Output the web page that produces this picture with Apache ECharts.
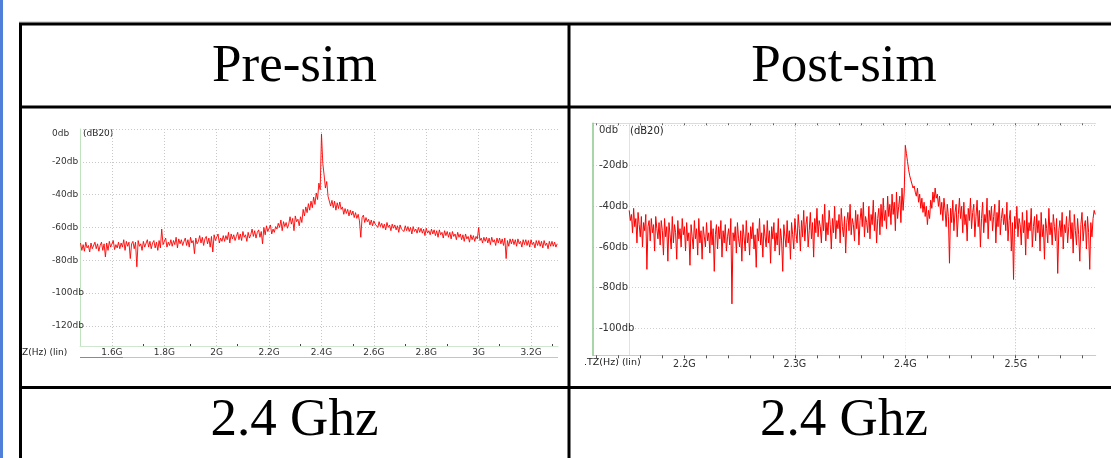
<!DOCTYPE html>
<html><head><meta charset="utf-8">
<script src="https://cdn.jsdelivr.net/npm/echarts@6/dist/echarts.min.js"></script>
<style>html,body{margin:0;padding:0;background:#fff}#c{width:1111px;height:458px}</style>
</head><body><div id="c"></div>
<script>
const headers = ['Pre-sim', 'Post-sim'];
const footers = ['2.4 Ghz', '2.4 Ghz'];

// Pre-sim spectrum: dB20 vs frequency (GHz), sample grid start/step
const preFreqStart = 1.48, preFreqStep = 0.005;
const preDb = [
 -69.5,-74,-70.5,-74.5,-69,-72.5,-71,-75,-69.5,-73,
 -72,-69,-73,-70,-74.5,-71,-69,-74,-70,-78,
 -69.5,-74,-68.5,-72,-73,-68,-73.5,-70.5,-72.5,-69,
 -73,-69.5,-72,-67.5,-74,-68.5,-71.5,-69,-79,-70,
 -68.5,-73,-69,-84,-68,-71.5,-70,-74,-68.5,-72,
 -71,-67.5,-72,-68.5,-73,-69.5,-68,-72.5,-69,-74,
 -68,-72.5,-61,-70.5,-71.5,-66.5,-72,-69,-71,-67.5,
 -71.5,-68,-70.5,-66,-72.5,-67,-70,-67.5,-71,-68.5,
 -66.5,-71,-67.5,-72,-66,-69.5,-68,-76,-66.5,-70,
 -68.5,-65,-69.5,-66,-71,-67,-65.5,-70,-66.5,-72,
 -65.5,-75,-64.5,-68,-69,-64,-69.5,-66.5,-68.5,-65,
 -68.5,-65,-67.5,-63,-69.5,-64,-67,-64.5,-68,-65.5,
 -63,-67.5,-64,-68,-62.5,-66,-64.5,-68.5,-63,-66.5,
 -64.5,-61,-65.5,-62,-66.5,-63,-61.5,-66,-62.5,-70,
 -60,-64.5,-59,-62.5,-63.5,-58.5,-64,-61,-63,-59.5,
 -61,-57.5,-60,-55.5,-62,-56.5,-59.5,-57,-60.5,-58,
 -53.5,-58,-54.5,-62,-53,-56.5,-55,-59,-53.5,-57,
 -49,-53,-47.5,-51,-45.5,-49.5,-44,-48,-41.5,-46,
 -39,-43,-33,-37,-3,-21,-28,-36,-32,-41,
 -42,-47,-43.5,-48,-44,-49.5,-45,-48.5,-44.5,-49,
 -47.5,-52,-48.5,-51.5,-49,-53,-49.5,-52.5,-50,-54,
 -51,-54.5,-52,-56,-66,-54,-52.5,-57,-54,-56.5,
 -55,-58.5,-55.5,-59,-56,-58,-57,-60,-56.5,-59.5,
 -57.5,-60.5,-58,-61.5,-57,-60,-58.5,-62,-58,-60.5,
 -58.5,-61.5,-59,-63,-58.5,-61,-60,-62.5,-59,-62,
 -59.5,-62.5,-60,-64,-59.5,-62.5,-61,-63.5,-60,-63,
 -60.5,-63.5,-61,-65,-60.5,-63.5,-62,-64.5,-61,-64,
 -61.5,-65,-62,-66,-61.5,-64.5,-63,-66.5,-62,-65,
 -62.5,-66,-63,-67,-62.5,-65.5,-64,-67.5,-63,-66,
 -64,-67.5,-64.5,-68.5,-64,-67,-65.5,-69,-64.5,-67.5,
 -65,-68.5,-65.5,-67,-60,-68,-66.5,-69.5,-66,-68.5,
 -66,-69.5,-66.5,-70.5,-66,-69,-67.5,-71,-66.5,-69.5,
 -66.5,-70,-67,-71,-66.5,-79,-68,-71.5,-67,-70,
 -67,-70.5,-67.5,-71.5,-67,-70,-68.5,-72,-67.5,-70.5,
 -67.5,-71,-68,-72,-67.5,-70.5,-69,-72.5,-68,-71,
 -68,-71.5,-68.5,-72.5,-68,-71,-69.5,-73,-68.5,-71.5,
 -68.5,-71.5,-69,-72,-70
];

// Post-sim spectrum: dB20 vs frequency (GHz)
const postFreqStart = 2.15, postFreqStep = 0.001;
const postDb = [
 -42,-47,-44,-53,-41,-50,-46,-58,-43,-49,
 -55,-45,-60,-48,-52,-44,-71,-50,-47,-57,
 -46,-53,-49,-62,-45,-51,-56,-48,-59,-47,
 -52,-64,-46,-55,-50,-67,-48,-54,-61,-45,
 -58,-49,-53,-66,-47,-56,-51,-60,-46,-54,
 -50,-62,-48,-57,-53,-69,-49,-55,-61,-47,
 -56,-51,-64,-46,-58,-52,-66,-50,-55,-60,
 -48,-57,-53,-63,-47,-59,-51,-72,-54,-49,
 -61,-50,-56,-47,-65,-52,-58,-49,-62,-55,
 -51,-59,-46,-88,-53,-57,-50,-63,-48,-56,
 -60,-52,-67,-49,-55,-62,-47,-58,-53,-64,
 -50,-56,-48,-61,-54,-70,-51,-57,-46,-59,
 -53,-65,-49,-55,-60,-47,-58,-52,-68,-50,
 -56,-48,-62,-53,-59,-46,-64,-51,-57,-72,
 -49,-55,-60,-47,-58,-52,-66,-48,-54,-61,
 -46,-53,-58,-44,-51,-62,-47,-55,-42,-57,
 -49,-45,-60,-52,-43,-56,-48,-65,-46,-53,
 -41,-55,-47,-50,-58,-44,-52,-39,-57,-48,
 -54,-42,-49,-61,-46,-53,-40,-56,-47,-51,
 -44,-58,-41,-50,-55,-45,-63,-48,-43,-52,
 -39,-54,-46,-49,-57,-42,-51,-44,-59,-47,
 -41,-50,-38,-55,-45,-48,-53,-40,-56,-44,
 -49,-37,-52,-43,-58,-46,-41,-54,-39,-50,
 -36,-47,-42,-51,-35,-45,-39,-49,-34,-44,
 -38,-52,-33,-46,-40,-35,-48,-31,-42,-33,
 -10,-14,-18,-22,-25,-27,-29,-31,-30,-33,
 -35,-31,-38,-34,-41,-36,-43,-38,-45,-40,
 -49,-42,-46,-37,-41,-33,-38,-31,-36,-34,
 -40,-35,-44,-38,-47,-36,-42,-50,-39,-45,
 -68,-41,-48,-37,-52,-43,-39,-55,-44,-36,
 -46,-40,-53,-38,-49,-44,-57,-41,-47,-36,
 -51,-43,-39,-55,-45,-37,-50,-42,-60,-46,
 -38,-53,-44,-48,-36,-56,-42,-47,-40,-52,
 -45,-39,-58,-43,-50,-37,-54,-46,-41,-49,
 -44,-52,-38,-57,-47,-42,-62,-48,-76,-45,
 -51,-40,-55,-46,-49,-59,-43,-53,-47,-64,
 -42,-56,-48,-52,-41,-60,-50,-45,-57,-44,
 -53,-47,-62,-43,-55,-49,-66,-46,-51,-58,
 -41,-54,-48,-59,-44,-50,-57,-46,-73,-52,
 -47,-55,-43,-61,-49,-53,-45,-58,-50,-42,
 -56,-48,-63,-44,-52,-59,-46,-54,-67,-49,
 -43,-57,-50,-47,-61,-45,-53,-71,-48,-55,
 -46,-42,-44
];

const preXTicks = [1.6, 1.8, 2, 2.2, 2.4, 2.6, 2.8, 3, 3.2];
const preYTicks = [0, -20, -40, -60, -80, -100, -120];
const preMinorTicks = [1.72, 1.9, 2.08, 2.32, 2.52, 2.72, 2.88, 3.08, 3.28];
const postXTicks = [2.2, 2.3, 2.4, 2.5];
const postYTicks = [0, -20, -40, -60, -80, -100];
const postMinorTicks = [2.12,2.14,2.16,2.18,2.2,2.22,2.24,2.26,2.28,2.3,2.32,2.34,2.36,2.38,2.4,2.42,2.44,2.46,2.48,2.5,2.52,2.54,2.56];
const postDataStartMarker = [2.15];

const preData = preDb.map((v, i) => [preFreqStart + i * preFreqStep, v]);
const postData = postDb.map((v, i) => [postFreqStart + i * postFreqStep, v]);

const fmtG = v => parseFloat(v.toFixed(3)) + 'G';
const lblFont = 'DejaVu Sans';
const dbFmt = v => v === 0 ? '{z|0db}' : v + 'db';

const chart = echarts.init(document.getElementById('c'), null, {renderer: 'canvas'});
const lineBlack = (x1, y1, x2, y2) => ({type: 'line', shape: {x1, y1, x2, y2}, style: {stroke: '#000', lineWidth: 3}, silent: true});
const bigText = (t, x, y) => ({type: 'text', x, y, style: {text: t, fill: '#000', font: '53px "Liberation Serif", "Times New Roman", serif', textAlign: 'center', textVerticalAlign: 'middle'}});
const smallText = (t, x, y, size, color) => ({type: 'text', x, y, style: {text: t, fill: color || '#222', font: size + 'px "DejaVu Sans", sans-serif', textAlign: 'left', textVerticalAlign: 'middle'}});

chart.setOption({
  animation: false,
  backgroundColor: '#fff',
  grid: [
    {left: 80, top: 129, width: 478, height: 217},
    {left: 593, top: 123.3, width: 502.7, height: 232}
  ],
  xAxis: [
    {gridIndex: 0, type: 'value', min: 1.478, max: 3.303,
     axisLine: {show: true, onZero: false, lineStyle: {color: '#cfe6cf', width: 1}},
     axisTick: {show: false, customValues: preXTicks},
     axisLabel: {customValues: preXTicks, formatter: fmtG, fontFamily: lblFont, fontSize: 9, color: '#333', margin: 2},
     splitLine: {show: true, lineStyle: {color: '#c8c8c8', type: [1, 2], width: 1}}},
    {gridIndex: 1, type: 'value', min: 2.1172, max: 2.5724,
     axisLine: {show: true, onZero: false, lineStyle: {color: '#b8d6b8', width: 1}},
     axisTick: {show: false, customValues: postXTicks},
     axisLabel: {customValues: postXTicks, formatter: fmtG, fontFamily: lblFont, fontSize: 9.6, color: '#333', margin: 4},
     splitLine: {show: true, lineStyle: {color: ['rgba(0,0,0,0)', '#bdbdbd', '#ececec', '#bdbdbd'], type: [1, 2], width: 1}}},
    {gridIndex: 1, type: 'value', min: 2.1172, max: 2.5724, position: 'bottom',
     axisLine: {show: false, onZero: false}, axisLabel: {show: false}, splitLine: {show: false},
     axisTick: {show: true, customValues: postMinorTicks, length: 3, lineStyle: {color: '#555'}}},
    {gridIndex: 1, type: 'value', min: 2.1172, max: 2.5724, position: 'top',
     axisLine: {show: true, onZero: false, lineStyle: {color: '#dcdcdc'}}, axisLabel: {show: false}, splitLine: {show: false},
     axisTick: {show: true, inside: true, customValues: postMinorTicks, length: 2, lineStyle: {color: '#666'}}},
    {gridIndex: 0, type: 'value', min: 1.478, max: 3.303, position: 'bottom',
     axisLine: {show: false, onZero: false}, axisLabel: {show: false}, splitLine: {show: false},
     axisTick: {show: true, inside: true, customValues: preMinorTicks, length: 2, lineStyle: {color: '#444'}}},
    {gridIndex: 1, type: 'value', min: 2.1172, max: 2.5724, position: 'bottom',
     axisLine: {show: false, onZero: false}, axisLabel: {show: false},
     axisTick: {show: false, customValues: postDataStartMarker},
     splitLine: {show: true, lineStyle: {color: '#e2e2e2', type: 'solid', width: 1}}}
  ],
  yAxis: [
    {gridIndex: 0, type: 'value', min: -132.3, max: 0,
     axisLine: {show: true, onZero: false, lineStyle: {color: '#bfe3bf', width: 1}},
     axisTick: {show: false, customValues: preYTicks},
     axisLabel: {customValues: preYTicks, formatter: dbFmt, align: 'left', margin: 28, fontFamily: lblFont, fontSize: 9, color: '#333',
                 rich: {z: {fontFamily: lblFont, fontSize: 9, color: '#333', padding: [10, 0, 0, 0]}}},
     splitLine: {show: true, lineStyle: {color: '#c8c8c8', type: [1, 2], width: 1}}},
    {gridIndex: 1, type: 'value', min: -113.3, max: 0.85, z: 3,
     axisLine: {show: true, onZero: false, lineStyle: {color: '#8cc98c', width: 1.5}},
     axisTick: {show: false, customValues: postYTicks},
     axisLabel: {customValues: postYTicks, formatter: dbFmt, inside: true, align: 'left', margin: 6, fontFamily: lblFont, fontSize: 10, color: '#333',
                 backgroundColor: 'rgba(0,0,0,0)',
                 rich: {z: {fontFamily: lblFont, fontSize: 10, color: '#333', padding: [11, 0, 0, 0]}}},
     splitLine: {show: true, lineStyle: {color: '#d0d0d0', type: [1, 2], width: 1}}}
  ],
  series: [
    {type: 'line', xAxisIndex: 0, yAxisIndex: 0, data: preData, showSymbol: false, symbol: 'none',
     lineStyle: {color: 'rgba(255,0,0,0.9)', width: 1}},
    {type: 'line', xAxisIndex: 1, yAxisIndex: 1, data: postData, showSymbol: false, symbol: 'none',
     lineStyle: {color: '#ff0000', width: 1}}
  ],
  graphic: [
    {type: 'rect', shape: {x: 0, y: 0, width: 3, height: 458}, style: {fill: '#4f7fd8'}},
    {type: 'line', shape: {x1: 19, y1: 22, x2: 1111, y2: 22}, style: {stroke: '#bbb', lineWidth: 1}},
    lineBlack(19, 24, 1111, 24),
    lineBlack(20.5, 23, 20.5, 458),
    lineBlack(569, 23, 569, 458),
    lineBlack(19, 107, 1111, 107),
    lineBlack(19, 387.5, 1111, 387.5),
    bigText(headers[0], 294.5, 67),
    bigText(headers[1], 844, 67),
    bigText(footers[0], 294.5, 421),
    bigText(footers[1], 844, 421),
    smallText('(dB20)', 83, 134, 9),
    smallText('Z(Hz) (lin)', 22, 352.5, 9),
    smallText('(dB20)', 630, 131, 10),
    smallText('.TZ(Hz) (lin)', 584, 363, 9.5),
    {type: 'line', shape: {x1: 80, y1: 357.5, x2: 558, y2: 357.5}, style: {stroke: '#c4c4c4', lineWidth: 1}},
    {type: 'line', shape: {x1: 80, y1: 357.5, x2: 123, y2: 357.5}, style: {stroke: '#8a8a8a', lineWidth: 1}}
  ]
});
</script></body></html>
